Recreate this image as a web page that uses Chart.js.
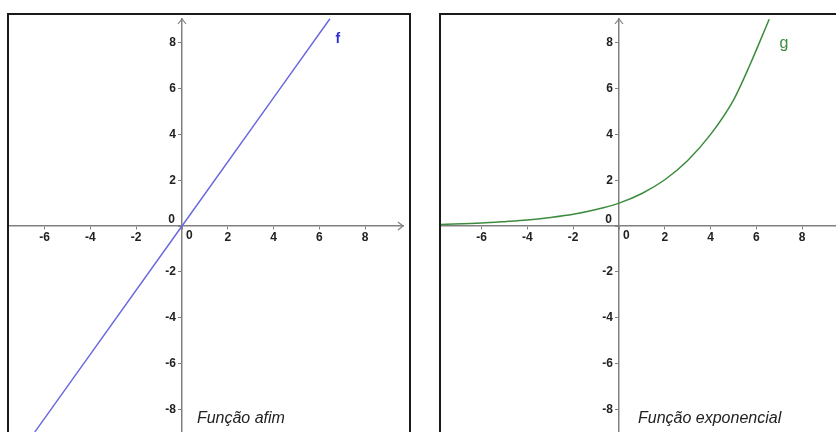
<!DOCTYPE html>
<html lang="pt">
<head>
<meta charset="utf-8">
<title>Função afim e função exponencial</title>
<script src="https://cdn.jsdelivr.net/npm/chart.js@4.4.0/dist/chart.umd.min.js"></script>
<style>
  html, body { margin: 0; padding: 0; background: #fff; overflow: hidden; width: 836px; height: 432px; }
  .panel { position: absolute; top: 13px; border: 2px solid #1a1a1a; background: #fff; overflow: hidden; }
  #p1 { left: 7px; width: 400px; height: 430px; }
  #p2 { left: 439px; width: 420px; height: 430px; }
  canvas { display: block; }
</style>
</head>
<body>
<div class="panel" id="p1"><canvas id="chartF" width="400" height="430"></canvas></div>
<div class="panel" id="p2"><canvas id="chartG" width="420" height="430"></canvas></div>

<script>
// f: reta que passa pela origem
const fX = [-6.43, 0, 6.46];
const fY = [-9.0, 0, 9.05];

// g: curva exponencial
const gX = [-7.8, -6, -5, -4, -3, -2, -1, 0, 1, 2, 3, 4, 5, 5.7, 6.56];
const gY = [0.07, 0.13, 0.19, 0.26, 0.37, 0.51, 0.72, 1.0, 1.42, 2.02, 2.86, 4.0, 5.5, 7.0, 9.03];

const tickStep = 2;
const fName = 'f';
const gName = 'g';
const fCaption = 'Função afim';
const gCaption = 'Função exponencial';

const UNIT = 22.9;            // pixels por unidade nos dois eixos
const AXIS_COLOR = '#808080';
const TICK_COLOR = '#222';
const FONT = '"Liberation Sans", Arial, sans-serif';

Chart.defaults.font.family = FONT;

// setas dos eixos, os zeros, o nome da função e a legenda em itálico
const decor = {
    id: 'decor',
    afterDraw(chart, args, opts) {
        const { ctx, chartArea: a, scales: { x, y } } = chart;
        const ox = x.getPixelForValue(0);
        const oy = y.getPixelForValue(0);

        ctx.save();
        ctx.strokeStyle = AXIS_COLOR;
        ctx.lineWidth = 1.2;
        ctx.beginPath();
        ctx.moveTo(a.right - 5, oy - 4);
        ctx.lineTo(a.right, oy);
        ctx.lineTo(a.right - 5, oy + 4);
        ctx.moveTo(ox - 4, a.top + 5);
        ctx.lineTo(ox, a.top);
        ctx.lineTo(ox + 4, a.top + 5);
        ctx.stroke();

        ctx.fillStyle = TICK_COLOR;
        ctx.font = 'bold 12px ' + FONT;
        ctx.textBaseline = 'middle';
        ctx.textAlign = 'right';
        ctx.fillText('0', ox - 7, oy - 6);
        ctx.textAlign = 'left';
        ctx.fillText('0', ox + 4, oy + 10);

        ctx.fillStyle = opts.nameColor;
        ctx.font = opts.nameFont + ' ' + FONT;
        ctx.textAlign = 'center';
        ctx.fillText(opts.name, x.getPixelForValue(opts.nameAt[0]), y.getPixelForValue(opts.nameAt[1]));

        ctx.fillStyle = TICK_COLOR;
        ctx.font = 'italic 16px ' + FONT;
        ctx.textAlign = 'left';
        ctx.textBaseline = 'alphabetic';
        ctx.fillText(opts.caption, x.getPixelForValue(opts.captionAt[0]), y.getPixelForValue(opts.captionAt[1]));
        ctx.restore();
    }
};

function axis(min, max, isY) {
    return {
        type: 'linear',
        min: min,
        max: max,
        position: isY ? { x: 0 } : { y: 0 },
        // o eixo cruza a origem: não reserva espaço nem margem no layout
        afterFit: s => {
            if (isY) s.width = 0; else s.height = 0;
            s.paddingTop = s.paddingBottom = s.paddingLeft = s.paddingRight = 0;
        },
        grid: { drawOnChartArea: false, drawTicks: true, tickLength: 3, color: AXIS_COLOR, lineWidth: 1 },
        border: { display: true, color: AXIS_COLOR, width: 1.5 },
        ticks: {
            stepSize: tickStep,
            includeBounds: false,
            autoSkip: false,
            maxRotation: 0,
            padding: 1,
            color: TICK_COLOR,
            font: { size: 12, weight: 'bold' },
            // rótulos do eixo y ficam afastados do eixo por um espaço
            callback: v => v === 0 ? '' : (isY ? v + '\u2002' : String(v))
        }
    };
}

function drawPlot(id, xs, ys, color, origin, area, decorOpts) {
    const canvas = document.getElementById(id);
    const top = 4;
    const bottom = canvas.height;
    const points = xs.map((v, i) => ({ x: v, y: ys[i] }));

    return new Chart(canvas, {
        type: 'scatter',
        data: {
            datasets: [{
                data: points,
                showLine: true,
                borderColor: color,
                borderWidth: 1.5,
                pointRadius: 0,
                cubicInterpolationMode: 'monotone',
                clip: false
            }]
        },
        options: {
            responsive: false,
            animation: false,
            layout: { padding: { left: 0, top: top, right: canvas.width - area, bottom: 0 } },
            plugins: {
                legend: { display: false },
                tooltip: { enabled: false },
                decor: decorOpts
            },
            scales: {
                x: axis(-origin.x / UNIT, (area - origin.x) / UNIT, false),
                y: axis(-(bottom - origin.y) / UNIT, (origin.y - top) / UNIT, true)
            }
        },
        plugins: [decor]
    });
}

drawPlot('chartF', fX, fY, '#6a6ae0', { x: 173, y: 211 }, 394, {
    name: fName, nameColor: '#2f2fd0', nameFont: 'bold 14px', nameAt: [6.81, 8.17],
    caption: fCaption, captionAt: [0.65, -8.6]
});

drawPlot('chartG', gX, gY, '#3d8b3d', { x: 178, y: 211 }, 420, {
    name: gName, nameColor: '#3d8b3d', nameFont: '16px', nameAt: [7.2, 7.95],
    caption: gCaption, captionAt: [0.83, -8.6]
});
</script>
</body>
</html>
